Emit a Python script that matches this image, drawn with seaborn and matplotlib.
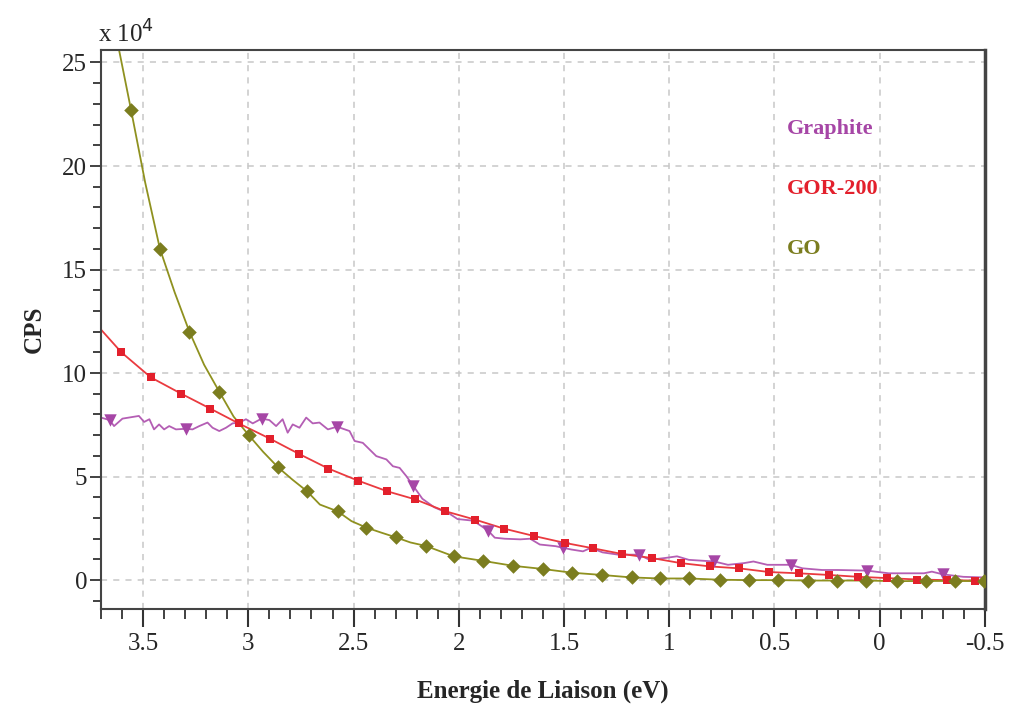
import numpy as np
import pandas as pd
import seaborn as sns
import matplotlib.pyplot as plt
from matplotlib.ticker import MultipleLocator

# --- data (x in eV, y in units of 1e4 CPS) ---
go_x = [3.62, 3.557, 3.49, 3.42, 3.35, 3.28, 3.21, 3.138, 3.07, 2.998, 2.93, 2.859, 2.79,
        2.722, 2.66, 2.575, 2.51, 2.44, 2.37, 2.30, 2.23, 2.156, 2.024, 1.885, 1.741,
        1.601, 1.464, 1.320, 1.179, 1.043, 0.905, 0.760, 0.620, 0.484, 0.339, 0.203,
        0.065, -0.080, -0.220, -0.359, -0.495]
go_y = [25.9, 22.7, 19.2, 16.0, 13.9, 12.0, 10.4, 9.1, 7.9, 7.0, 6.2, 5.45, 4.85,
        4.3, 3.65, 3.32, 2.85, 2.54, 2.3, 2.07, 1.82, 1.65, 1.15, 0.93, 0.69,
        0.54, 0.36, 0.25, 0.13, 0.08, 0.08, 0.02, 0.0, 0.0, -0.02, -0.02,
        -0.02, -0.05, -0.04, -0.04, -0.05]
go_mx = [3.557, 3.42, 3.28, 3.138, 2.998, 2.859, 2.722, 2.575, 2.44, 2.30, 2.156, 2.024,
         1.885, 1.741, 1.601, 1.464, 1.320, 1.179, 1.043, 0.905, 0.760, 0.620, 0.484,
         0.339, 0.203, 0.065, -0.080, -0.220, -0.359, -0.495]
go_my = [22.7, 16.0, 12.0, 9.1, 7.0, 5.45, 4.3, 3.32, 2.54, 2.07, 1.65, 1.15,
         0.93, 0.69, 0.54, 0.36, 0.25, 0.13, 0.08, 0.08, 0.02, 0.0, 0.0,
         -0.02, -0.02, -0.02, -0.05, -0.04, -0.04, -0.05]

gor_x = [3.70, 3.603, 3.463, 3.32, 3.18, 3.046, 2.897, 2.76, 2.62, 2.48, 2.34, 2.207,
         2.065, 1.922, 1.786, 1.642, 1.497, 1.363, 1.223, 1.084, 0.944, 0.804, 0.669,
         0.525, 0.385, 0.242, 0.102, -0.034, -0.179, -0.322, -0.453, -0.50]
gor_y = [12.1, 11.0, 9.79, 9.01, 8.28, 7.57, 6.83, 6.10, 5.39, 4.81, 4.29, 3.90,
         3.33, 2.92, 2.49, 2.13, 1.80, 1.54, 1.26, 1.07, 0.82, 0.66, 0.57,
         0.39, 0.33, 0.25, 0.16, 0.10, 0.03, 0.0, -0.02, -0.05]
gor_mx = gor_x[1:-1]
gor_my = gor_y[1:-1]

gra_x = [3.70, 3.659, 3.638, 3.598, 3.52, 3.495, 3.47, 3.448, 3.424, 3.40, 3.376, 3.344,
         3.297, 3.265, 3.233, 3.194, 3.17, 3.138, 3.106, 3.075, 3.043, 3.011, 2.979,
         2.937, 2.90, 2.868, 2.837, 2.813, 2.789, 2.757, 2.725, 2.694, 2.662, 2.622,
         2.578, 2.519, 2.495, 2.456, 2.424, 2.392, 2.344, 2.313, 2.281, 2.249, 2.217,
         2.173, 2.117, 2.043, 2.006, 1.931, 1.894, 1.86, 1.829, 1.782, 1.708, 1.661,
         1.615, 1.54, 1.503, 1.466, 1.41, 1.372, 1.317, 1.242, 1.145, 1.093, 1.019,
         0.963, 0.907, 0.786, 0.721, 0.646, 0.60, 0.534, 0.423, 0.367, 0.274, 0.20,
         0.06, -0.043, -0.21, -0.248, -0.30, -0.397, -0.499]
gra_y = [7.85, 7.73, 7.44, 7.80, 7.93, 7.64, 7.77, 7.28, 7.52, 7.28, 7.44, 7.28,
         7.31, 7.28, 7.44, 7.61, 7.36, 7.20, 7.36, 7.57, 7.61, 7.77, 7.57,
         7.80, 7.73, 7.44, 7.77, 7.12, 7.52, 7.36, 7.85, 7.57, 7.61, 7.28,
         7.41, 7.20, 6.72, 6.63, 6.31, 5.99, 5.83, 5.50, 5.42, 5.02, 4.56,
         3.93, 3.52, 3.20, 2.95, 2.87, 2.62, 2.38, 2.05, 2.0, 1.97, 2.0,
         1.72, 1.64, 1.56, 1.48, 1.39, 1.56, 1.34, 1.23, 1.23, 0.98, 1.07,
         1.15, 0.98, 0.90, 0.74, 0.82, 0.90, 0.74, 0.74, 0.57, 0.49, 0.49,
         0.46, 0.33, 0.33, 0.41, 0.28, 0.16, 0.13]
gra_mx = [3.659, 3.297, 2.937, 2.578, 2.217, 1.86, 1.503, 1.145, 0.786, 0.423, 0.06, -0.30]
gra_my = [7.73, 7.31, 7.80, 7.41, 4.56, 2.38, 1.56, 1.23, 0.90, 0.74, 0.46, 0.28]

names = ["Graphite", "GOR-200", "GO"]
colors = {"Graphite": "#a646a6", "GOR-200": "#e3202c", "GO": "#7b7d1f"}
line_colors = {"Graphite": "#b45eb4", "GOR-200": "#ea3a3f", "GO": "#8f911f"}
markers = {"Graphite": "v", "GOR-200": "s", "GO": "D"}
msizes = {"Graphite": 80, "GOR-200": 38, "GO": 55}
label_y = [21.8, 18.9, 16.0]

lines = pd.concat([
    pd.DataFrame({"x": gra_x, "y": gra_y, "tag": "Graphite"}),
    pd.DataFrame({"x": gor_x, "y": gor_y, "tag": "GOR-200"}),
    pd.DataFrame({"x": go_x, "y": go_y, "tag": "GO"}),
], ignore_index=True)
points = pd.concat([
    pd.DataFrame({"x": gra_mx, "y": gra_my, "tag": "Graphite"}),
    pd.DataFrame({"x": gor_mx, "y": gor_my, "tag": "GOR-200"}),
    pd.DataFrame({"x": go_mx, "y": go_my, "tag": "GO"}),
], ignore_index=True)

sns.set_style("white")
plt.rcParams["font.family"] = ["Liberation Serif", "DejaVu Serif"]

fig = plt.figure(figsize=(10.13, 7.05), dpi=100)
ax = fig.add_axes([0.0997, 0.136, 0.8726, 0.793])

sns.lineplot(x="x", y="y", data=lines, hue="tag", palette=line_colors,
             estimator=None, sort=False, linewidth=1.3, legend=False, ax=ax)
for name in names:
    sub = points[points.tag == name]
    sns.scatterplot(x="x", y="y", data=sub, color=colors[name], marker=markers[name],
                    s=msizes[name], linewidth=0, legend=False, ax=ax, zorder=3)

ax.set_xlim(3.70, -0.5)
ax.set_ylim(-1.4, 25.6)
ax.xaxis.set_minor_locator(MultipleLocator(0.1))
ax.yaxis.set_minor_locator(MultipleLocator(1))
ax.set_xticks(np.arange(3.5, -0.51, -0.5))
ax.set_xticklabels(["3.5", "3", "2.5", "2", "1.5", "1", "0.5", "0", "-0.5"])
ax.set_yticks([0, 5, 10, 15, 20, 25])
ax.set_yticklabels(["0", "5", "10", "15", "20", "25"])

ax.tick_params(axis="x", which="major", direction="out", length=13, width=1.5,
               color="#333333", labelsize=18, pad=4, bottom=True)
ax.tick_params(axis="x", which="minor", direction="out", length=7, width=1.3,
               color="#333333", bottom=True)
ax.tick_params(axis="y", which="major", direction="out", length=8, width=1.3,
               color="#333333", labelsize=18, pad=2, left=True)
ax.tick_params(axis="y", which="minor", direction="out", length=6, width=1.3,
               color="#333333", left=True)

ax.grid(True, which="major", linestyle=(0, (4, 4)), color="#c8c8c8", linewidth=1.1)
for side in ["left", "bottom", "top"]:
    ax.spines[side].set_color("#444444")
    ax.spines[side].set_linewidth(1.5)
ax.spines["right"].set_color("#444444")
ax.spines["right"].set_linewidth(2.5)

ax.set_xlabel("Energie de Liaison (eV)", fontsize=18, fontweight="bold", labelpad=18)
ax.set_ylabel("CPS", fontsize=18, fontweight="bold", labelpad=12)
fig.text(0.097, 0.932, "x 10$^4$", fontsize=18, ha="left", va="bottom")

for name, ly in zip(names, label_y):
    ax.text(0.44, ly, name, color=colors[name], fontsize=16, fontweight="bold",
            ha="left", va="center")

fig.savefig("out.png", dpi=100)
